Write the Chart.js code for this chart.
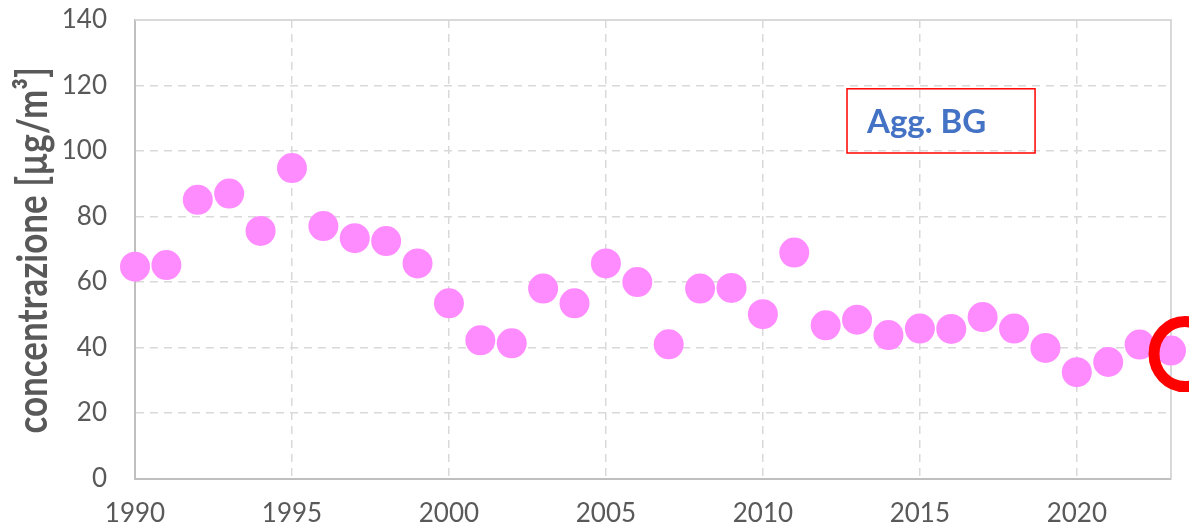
<!DOCTYPE html>
<html>
<head>
<meta charset="utf-8">
<script src="https://cdn.jsdelivr.net/npm/chart.js@4"></script>
<style>
  html, body { margin: 0; padding: 0; background: #ffffff; }
  #wrap { width: 1189px; height: 528px; position: relative; }
</style>
</head>
<body>
<div id="wrap"><canvas id="c" width="1189" height="528"></canvas></div>
<script>
const years = [1990,1991,1992,1993,1994,1995,1996,1997,1998,1999,2000,2001,2002,2003,2004,2005,2006,2007,2008,2009,2010,2011,2012,2013,2014,2015,2016,2017,2018,2019,2020,2021,2022,2023];
const concentrations = [64.7,65.2,85.1,87.0,75.6,94.8,77.1,73.4,72.5,65.7,53.5,42.2,41.3,58.0,53.5,65.7,60.0,41.0,58.0,58.2,50.2,69.0,46.8,48.5,43.8,45.8,45.7,49.3,45.8,39.9,32.5,35.6,40.9,39.1];
const yTicks = [0,20,40,60,80,100,120,140];
const xTicks = [1990,1995,2000,2005,2010,2015,2020];
const labelText = "Agg. BG";
const axisTitle = "concentrazione [µg/m³]";
const highlightYear = 2023;
const highlightValue = 38.0;
const labelBox = {x0: 2012.68, x1: 2018.67, y0: 119.0, y1: 99.4};

const points = years.map((y, i) => ({x: y, y: concentrations[i]}));

const frame = {
  id: 'frame',
  beforeDatasetsDraw(chart) {
    const {ctx, chartArea: a} = chart;
    ctx.save();
    ctx.strokeStyle = '#d9d9d9';
    ctx.lineWidth = 2;
    ctx.beginPath();
    ctx.moveTo(a.left, a.top);
    ctx.lineTo(a.right, a.top);
    ctx.lineTo(a.right, a.bottom);
    ctx.stroke();
    // y axis title (slightly widened glyphs to mimic the original face)
    ctx.save();
    ctx.translate(47, (a.top + a.bottom) / 2 + 1);
    ctx.rotate(-Math.PI / 2);
    ctx.scale(1, 1.2);
    ctx.fillStyle = '#595959';
    ctx.font = 'bold 35px Lato';
    ctx.textAlign = 'center';
    ctx.textBaseline = 'alphabetic';
    ctx.fillText(axisTitle, 0, 0);
    ctx.restore();
    ctx.restore();
  },
  afterDatasetsDraw(chart) {
    const {ctx, scales: {x, y}} = chart;
    ctx.save();
    const bx0 = x.getPixelForValue(labelBox.x0), bx1 = x.getPixelForValue(labelBox.x1);
    const by0 = y.getPixelForValue(labelBox.y0), by1 = y.getPixelForValue(labelBox.y1);
    ctx.strokeStyle = '#ff0000';
    ctx.lineWidth = 1.5;
    ctx.strokeRect(bx0, by0, bx1 - bx0, by1 - by0);
    ctx.fillStyle = '#4472c4';
    ctx.font = 'bold 33px Lato';
    ctx.textBaseline = 'middle';
    ctx.textAlign = 'left';
    ctx.fillText(labelText, bx0 + 20, (by0 + by1) / 2 + 1);
    const cx = x.getPixelForValue(highlightYear) + 14;
    const cy = y.getPixelForValue(highlightValue);
    ctx.strokeStyle = '#ff0000';
    ctx.lineWidth = 11;
    ctx.beginPath();
    ctx.ellipse(cx, cy, 31, 32.5, 0, 0, Math.PI * 2);
    ctx.stroke();
    ctx.restore();
  }
};

new Chart(document.getElementById('c'), {
  type: 'scatter',
  data: {
    datasets: [{
      data: points,
      backgroundColor: '#ff8cff',
      borderWidth: 0,
      pointRadius: 15,
      pointHoverRadius: 15,
      clip: false
    }]
  },
  options: {
    responsive: false,
    animation: false,
    devicePixelRatio: 1,
    layout: { padding: { top: 20, right: 18, left: 0, bottom: 0 } },
    plugins: { legend: { display: false }, tooltip: { enabled: false } },
    scales: {
      x: {
        type: 'linear',
        min: 1990, max: 2023,
        afterBuildTicks(scale) { scale.ticks = xTicks.map(v => ({value: v})); },
        afterFit(scale) { scale.height = 49.4; scale.paddingLeft = 0; scale.paddingRight = 0; },
        ticks: {
          font: { family: 'Lato', size: 26 },
          color: '#595959',
          padding: 19,
          maxRotation: 0,
          autoSkip: false,
          callback: v => String(v)
        },
        grid: { color: '#d9d9d9', lineWidth: 1.5, drawTicks: false },
        border: { color: '#bfbfbf', width: 2, dash: [8, 6] }
      },
      y: {
        min: 0, max: 140,
        afterBuildTicks(scale) { scale.ticks = yTicks.map(v => ({value: v})); },
        afterFit(scale) { scale.width = 135; scale.paddingTop = 0; scale.paddingBottom = 0; },
        ticks: {
          font: { family: 'Lato', size: 26 },
          color: '#595959',
          padding: 28
        },
        grid: { color: '#d9d9d9', lineWidth: 1.5, drawTicks: false },
        border: { color: '#bfbfbf', width: 2, dash: [8, 6] },
        title: { display: false }
      }
    }
  },
  plugins: [frame]
});
</script>
</body>
</html>
